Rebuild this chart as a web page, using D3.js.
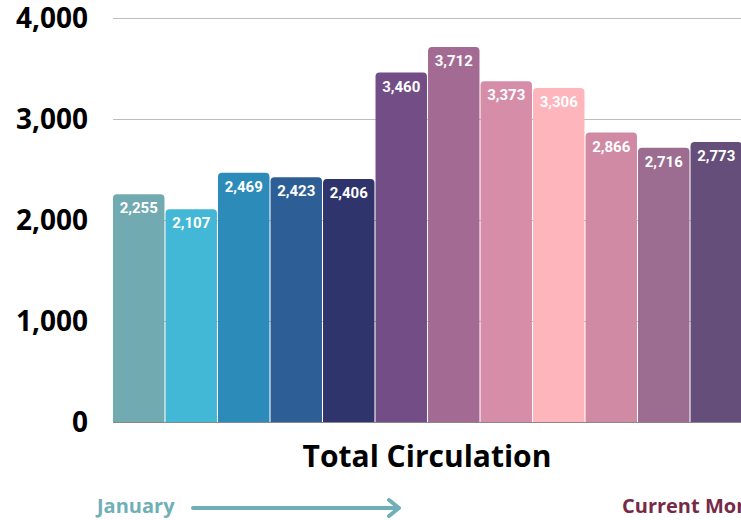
<!DOCTYPE html>
<html>
<head>
<meta charset="utf-8">
<script src="https://cdn.jsdelivr.net/npm/d3@7"></script>
<style>
  body { margin: 0; background: #fff; overflow: hidden; }
  svg { display: block; }
  .tick-label { font-family: "Open Sans", sans-serif; font-weight: 700; font-size: 28px; fill: #000; }
  .bar-label { font-family: Roboto, sans-serif; font-weight: 700; font-size: 15px; fill: #fff; }
</style>
</head>
<body>
<svg width="741" height="520"></svg>
<script>
var months = ["Jan", "Feb", "Mar", "Apr", "May", "Jun", "Jul", "Aug", "Sep", "Oct", "Nov", "Dec"];
var circulation = [2255, 2107, 2469, 2423, 2406, 3460, 3712, 3373, 3306, 2866, 2716, 2773];
var barColors = ["#72aab1", "#42b8d6", "#2d8bb9", "#2e5e96", "#30346c", "#724d86",
                 "#a36b93", "#d68da7", "#feb5bb", "#d18aa4", "#9c6c91", "#654e7a"];
var yTicks = [0, 1000, 2000, 3000, 4000];

var svg = d3.select("svg"),
    plotLeft = 113,
    plotRight = 742,
    plotTop = 18,
    plotBottom = 422;

var x = d3.scaleBand()
    .domain(months)
    .range([plotLeft, plotRight])
    .paddingInner(0.02)
    .paddingOuter(0);

var y = d3.scaleLinear()
    .domain([0, 4000])
    .range([plotBottom, plotTop]);

var fmt = d3.format(",");

// gridlines
svg.append("g").selectAll("line")
  .data(yTicks)
  .enter().append("line")
    .attr("x1", plotLeft)
    .attr("x2", 741)
    .attr("y1", function(d) { return y(d) + 0.5; })
    .attr("y2", function(d) { return y(d) + 0.5; })
    .attr("stroke", function(d) { return d === 0 ? "#888" : "#bdbdbd"; })
    .attr("stroke-width", 1);

// y tick labels
svg.append("g").selectAll("text")
  .data(yTicks)
  .enter().append("text")
    .attr("class", "tick-label")
    .attr("x", 88)
    .attr("y", function(d) { return y(d); })
    .attr("dy", "0.36em")
    .attr("text-anchor", "end")
    .text(function(d) { return fmt(d); });

// bars with rounded tops
var r = 4;
function barPath(d, i) {
  var x0 = x(months[i]), w = x.bandwidth(), y0 = y(d), y1 = y(0);
  return "M" + x0 + "," + y1 +
         "V" + (y0 + r) +
         "Q" + x0 + "," + y0 + " " + (x0 + r) + "," + y0 +
         "H" + (x0 + w - r) +
         "Q" + (x0 + w) + "," + y0 + " " + (x0 + w) + "," + (y0 + r) +
         "V" + y1 + "Z";
}

svg.append("g").selectAll("path")
  .data(circulation)
  .enter().append("path")
    .attr("d", barPath)
    .attr("fill", function(d, i) { return barColors[i]; });

svg.append("g").selectAll("text")
  .data(circulation)
  .enter().append("text")
    .attr("class", "bar-label")
    .attr("x", function(d, i) { return x(months[i]) + x.bandwidth() / 2; })
    .attr("y", function(d) { return y(d) + 19; })
    .attr("text-anchor", "middle")
    .text(function(d) { return fmt(d); });

// title
svg.append("text")
    .attr("x", 427)
    .attr("y", 467)
    .attr("text-anchor", "middle")
    .style("font-family", "'Open Sans', sans-serif")
    .style("font-weight", 700)
    .style("font-size", "30px")
    .attr("fill", "#000")
    .text("Total Circulation");

// bottom legend: January ---> Current Month
svg.append("text")
    .attr("x", 97)
    .attr("y", 513)
    .style("font-family", "'Open Sans', sans-serif")
    .style("font-weight", 700)
    .style("font-size", "20px")
    .attr("fill", "#6fafb5")
    .text("January");

svg.append("line")
    .attr("x1", 193).attr("x2", 398)
    .attr("y1", 508).attr("y2", 508)
    .attr("stroke", "#6fafb5")
    .attr("stroke-width", 4)
    .attr("stroke-linecap", "round");

svg.append("path")
    .attr("d", "M389,500 L399,508 L389,516")
    .attr("fill", "none")
    .attr("stroke", "#6fafb5")
    .attr("stroke-width", 4)
    .attr("stroke-linecap", "round")
    .attr("stroke-linejoin", "round");

svg.append("text")
    .attr("x", 622)
    .attr("y", 513)
    .style("font-family", "'Open Sans', sans-serif")
    .style("font-weight", 700)
    .style("font-size", "20px")
    .attr("fill", "#772a48")
    .text("Current Month");
</script>
</body>
</html>
